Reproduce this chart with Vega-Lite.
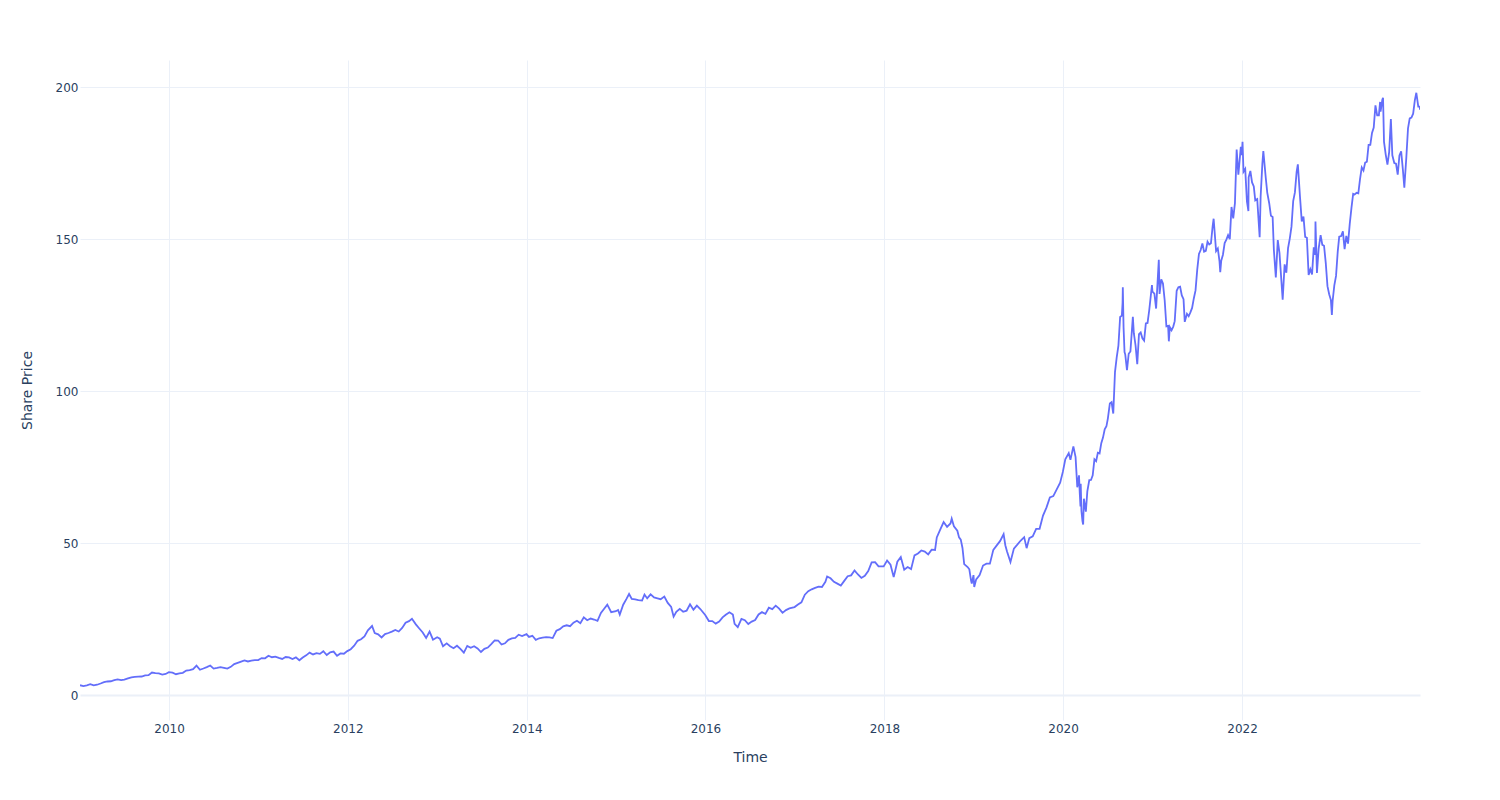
{
  "$schema": "https://vega.github.io/schema/vega-lite/v6.json",
  "autosize": {"type": "none"},
  "width": 1340,
  "height": 660,
  "padding": {"left": 80, "top": 60, "right": 80, "bottom": 80},
  "background": "white",
  "config": {
    "view": {"stroke": null},
    "font": "DejaVu Sans",
    "axis": {
      "labelFont": "DejaVu Sans", "labelFontSize": 12, "labelColor": "#2a3f5f",
      "titleFont": "DejaVu Sans", "titleFontSize": 14, "titleFontWeight": "normal", "titleColor": "#2a3f5f",
      "domain": false, "ticks": false, "gridColor": "#EBF0F8", "gridOpacity": 1
    }
  },
  "data": {"values": [
    {"t":"2009-01-02","p":3.24},{"t":"2009-01-16","p":2.94},{"t":"2009-01-30","p":3.21},{"t":"2009-02-13","p":3.56},{"t":"2009-02-27","p":3.19},{"t":"2009-03-13","p":3.40},{"t":"2009-03-27","p":3.80},{"t":"2009-04-10","p":4.23},{"t":"2009-04-24","p":4.47},{"t":"2009-05-08","p":4.55},{"t":"2009-05-22","p":4.90},{"t":"2009-06-05","p":5.18},{"t":"2009-06-19","p":4.93},{"t":"2009-07-02","p":5.08},{"t":"2009-07-17","p":5.46},{"t":"2009-07-31","p":5.84},{"t":"2009-08-14","p":5.97},{"t":"2009-08-28","p":6.07},{"t":"2009-09-11","p":6.11},{"t":"2009-09-25","p":6.49},{"t":"2009-10-09","p":6.54},{"t":"2009-10-23","p":7.41},{"t":"2009-11-06","p":7.25},{"t":"2009-11-20","p":7.13},{"t":"2009-12-04","p":6.75},{"t":"2009-12-18","p":6.94},{"t":"2009-12-31","p":7.53},
    {"t":"2010-01-15","p":7.35},{"t":"2010-01-29","p":6.86},{"t":"2010-02-12","p":7.16},{"t":"2010-02-26","p":7.31},{"t":"2010-03-12","p":8.06},{"t":"2010-03-26","p":8.22},{"t":"2010-04-09","p":8.50},{"t":"2010-04-23","p":9.69},{"t":"2010-05-07","p":8.33},{"t":"2010-05-21","p":8.74},{"t":"2010-06-04","p":9.18},{"t":"2010-06-18","p":9.71},{"t":"2010-07-02","p":8.72},{"t":"2010-07-16","p":8.93},{"t":"2010-07-30","p":9.19},{"t":"2010-08-13","p":8.96},{"t":"2010-08-27","p":8.70},{"t":"2010-09-10","p":9.28},{"t":"2010-09-24","p":10.17},{"t":"2010-10-08","p":10.58},{"t":"2010-10-22","p":10.99},{"t":"2010-11-05","p":11.37},{"t":"2010-11-19","p":11.05},{"t":"2010-12-03","p":11.36},{"t":"2010-12-17","p":11.51},{"t":"2010-12-31","p":11.52},
    {"t":"2011-01-14","p":12.18},{"t":"2011-01-28","p":12.10},{"t":"2011-02-11","p":12.96},{"t":"2011-02-25","p":12.45},{"t":"2011-03-11","p":12.62},{"t":"2011-03-25","p":12.23},{"t":"2011-04-08","p":11.89},{"t":"2011-04-22","p":12.52},{"t":"2011-05-06","p":12.39},{"t":"2011-05-20","p":11.84},{"t":"2011-06-03","p":12.39},{"t":"2011-06-17","p":11.46},{"t":"2011-07-01","p":12.34},{"t":"2011-07-15","p":13.07},{"t":"2011-07-29","p":13.95},{"t":"2011-08-12","p":13.36},{"t":"2011-08-26","p":13.76},{"t":"2011-09-09","p":13.55},{"t":"2011-09-23","p":14.41},{"t":"2011-10-07","p":13.16},{"t":"2011-10-21","p":14.04},{"t":"2011-11-04","p":14.30},{"t":"2011-11-18","p":12.91},{"t":"2011-12-02","p":13.69},{"t":"2011-12-16","p":13.60},{"t":"2011-12-30","p":14.46},
    {"t":"2012-01-13","p":15.10},{"t":"2012-01-27","p":16.23},{"t":"2012-02-10","p":17.85},{"t":"2012-02-24","p":18.35},{"t":"2012-03-09","p":19.31},{"t":"2012-03-23","p":21.32},{"t":"2012-04-09","p":22.72},{"t":"2012-04-20","p":20.38},{"t":"2012-05-04","p":19.97},{"t":"2012-05-18","p":18.94},{"t":"2012-06-01","p":20.04},{"t":"2012-06-15","p":20.42},{"t":"2012-06-29","p":20.86},{"t":"2012-07-13","p":21.39},{"t":"2012-07-27","p":20.90},{"t":"2012-08-10","p":22.07},{"t":"2012-08-24","p":23.80},{"t":"2012-09-07","p":24.33},{"t":"2012-09-19","p":25.09},{"t":"2012-10-05","p":23.27},{"t":"2012-10-19","p":21.91},{"t":"2012-11-02","p":20.60},{"t":"2012-11-16","p":18.80},{"t":"2012-11-30","p":20.90},{"t":"2012-12-14","p":18.21},{"t":"2012-12-31","p":19.01},
    {"t":"2013-01-11","p":18.55},{"t":"2013-01-24","p":16.06},{"t":"2013-02-08","p":17.00},{"t":"2013-02-22","p":16.09},{"t":"2013-03-08","p":15.40},{"t":"2013-03-22","p":16.23},{"t":"2013-04-05","p":15.22},{"t":"2013-04-19","p":13.95},{"t":"2013-05-03","p":16.16},{"t":"2013-05-17","p":15.56},{"t":"2013-05-31","p":16.06},{"t":"2013-06-14","p":15.35},{"t":"2013-06-28","p":14.16},{"t":"2013-07-12","p":15.21},{"t":"2013-07-26","p":15.64},{"t":"2013-08-09","p":16.76},{"t":"2013-08-23","p":17.99},{"t":"2013-09-06","p":17.94},{"t":"2013-09-20","p":16.62},{"t":"2013-10-04","p":17.03},{"t":"2013-10-18","p":18.17},{"t":"2013-11-01","p":18.64},{"t":"2013-11-15","p":18.78},{"t":"2013-11-29","p":19.86},{"t":"2013-12-13","p":19.40},{"t":"2013-12-31","p":20.04},
    {"t":"2014-01-10","p":19.13},{"t":"2014-01-24","p":19.50},{"t":"2014-02-07","p":18.17},{"t":"2014-02-21","p":18.69},{"t":"2014-03-07","p":18.91},{"t":"2014-03-21","p":19.06},{"t":"2014-04-04","p":18.98},{"t":"2014-04-17","p":18.75},{"t":"2014-05-02","p":21.15},{"t":"2014-05-16","p":21.68},{"t":"2014-05-30","p":22.61},{"t":"2014-06-13","p":22.95},{"t":"2014-06-27","p":22.67},{"t":"2014-07-11","p":23.80},{"t":"2014-07-25","p":24.42},{"t":"2014-08-08","p":23.62},{"t":"2014-08-22","p":25.56},{"t":"2014-09-05","p":24.61},{"t":"2014-09-19","p":25.18},{"t":"2014-10-03","p":24.85},{"t":"2014-10-17","p":24.42},{"t":"2014-10-31","p":27.00},{"t":"2014-11-14","p":28.48},{"t":"2014-11-26","p":29.73},{"t":"2014-12-12","p":27.27},{"t":"2014-12-31","p":27.59},
    {"t":"2015-01-09","p":28.00},{"t":"2015-01-16","p":26.50},{"t":"2015-01-30","p":29.73},{"t":"2015-02-13","p":31.72},{"t":"2015-02-23","p":33.25},{"t":"2015-03-06","p":31.64},{"t":"2015-03-20","p":31.48},{"t":"2015-04-02","p":31.23},{"t":"2015-04-17","p":31.09},{"t":"2015-04-27","p":33.06},{"t":"2015-05-08","p":31.80},{"t":"2015-05-22","p":33.13},{"t":"2015-06-05","p":32.13},{"t":"2015-06-19","p":31.84},{"t":"2015-07-02","p":31.55},{"t":"2015-07-17","p":32.39},{"t":"2015-07-31","p":30.33},{"t":"2015-08-14","p":28.99},{"t":"2015-08-24","p":25.78},{"t":"2015-09-04","p":27.35},{"t":"2015-09-18","p":28.35},{"t":"2015-10-02","p":27.40},{"t":"2015-10-16","p":27.75},{"t":"2015-10-30","p":29.88},{"t":"2015-11-13","p":28.09},{"t":"2015-11-27","p":29.44},{"t":"2015-12-11","p":28.30},{"t":"2015-12-31","p":26.32},
    {"t":"2016-01-15","p":24.35},{"t":"2016-01-29","p":24.33},{"t":"2016-02-12","p":23.50},{"t":"2016-02-26","p":24.18},{"t":"2016-03-11","p":25.57},{"t":"2016-03-24","p":26.42},{"t":"2016-04-08","p":27.25},{"t":"2016-04-22","p":26.48},{"t":"2016-04-29","p":23.43},{"t":"2016-05-12","p":22.37},{"t":"2016-05-27","p":25.09},{"t":"2016-06-10","p":24.63},{"t":"2016-06-24","p":23.35},{"t":"2016-07-08","p":24.17},{"t":"2016-07-22","p":24.67},{"t":"2016-08-05","p":26.51},{"t":"2016-08-19","p":27.28},{"t":"2016-09-02","p":26.72},{"t":"2016-09-16","p":28.73},{"t":"2016-09-30","p":28.26},{"t":"2016-10-14","p":29.41},{"t":"2016-10-28","p":28.43},{"t":"2016-11-11","p":27.05},{"t":"2016-11-25","p":27.95},{"t":"2016-12-09","p":28.49},{"t":"2016-12-30","p":28.95},
    {"t":"2017-01-13","p":29.76},{"t":"2017-01-27","p":30.49},{"t":"2017-02-10","p":33.03},{"t":"2017-02-24","p":34.17},{"t":"2017-03-10","p":34.79},{"t":"2017-03-24","p":35.26},{"t":"2017-04-07","p":35.69},{"t":"2017-04-21","p":35.57},{"t":"2017-05-05","p":37.24},{"t":"2017-05-12","p":39.02},{"t":"2017-05-26","p":38.40},{"t":"2017-06-09","p":37.24},{"t":"2017-06-23","p":36.65},{"t":"2017-07-07","p":36.00},{"t":"2017-07-21","p":37.56},{"t":"2017-08-04","p":39.10},{"t":"2017-08-18","p":39.38},{"t":"2017-09-01","p":41.01},{"t":"2017-09-15","p":39.66},{"t":"2017-09-29","p":38.53},{"t":"2017-10-13","p":39.24},{"t":"2017-10-27","p":40.76},{"t":"2017-11-10","p":43.67},{"t":"2017-11-24","p":43.74},{"t":"2017-12-08","p":42.34},{"t":"2017-12-29","p":42.31},
    {"t":"2018-01-12","p":44.27},{"t":"2018-01-26","p":42.88},{"t":"2018-02-08","p":38.79},{"t":"2018-02-23","p":43.88},{"t":"2018-03-09","p":45.43},{"t":"2018-03-23","p":41.24},{"t":"2018-04-06","p":42.10},{"t":"2018-04-20","p":41.43},{"t":"2018-05-04","p":45.96},{"t":"2018-05-18","p":46.58},{"t":"2018-06-01","p":47.56},{"t":"2018-06-15","p":47.21},{"t":"2018-06-29","p":46.28},{"t":"2018-07-13","p":47.84},{"t":"2018-07-27","p":47.74},{"t":"2018-08-03","p":51.85},{"t":"2018-08-17","p":54.40},{"t":"2018-08-31","p":56.91},{"t":"2018-09-14","p":55.33},{"t":"2018-09-28","p":56.44},{"t":"2018-10-03","p":58.02},{"t":"2018-10-12","p":55.53},{"t":"2018-10-26","p":54.08},{"t":"2018-11-02","p":51.87},{"t":"2018-11-09","p":51.12},{"t":"2018-11-16","p":48.38},{"t":"2018-11-23","p":43.07},{"t":"2018-12-07","p":42.12},{"t":"2018-12-14","p":41.37},{"t":"2018-12-21","p":37.68},{"t":"2018-12-24","p":36.71},{"t":"2018-12-31","p":39.44},
    {"t":"2019-01-03","p":35.55},{"t":"2019-01-11","p":38.07},{"t":"2019-01-25","p":39.44},{"t":"2019-02-08","p":42.60},{"t":"2019-02-22","p":43.24},{"t":"2019-03-08","p":43.23},{"t":"2019-03-22","p":47.76},{"t":"2019-04-05","p":49.25},{"t":"2019-04-19","p":50.71},{"t":"2019-05-03","p":52.94},{"t":"2019-05-10","p":49.30},{"t":"2019-05-17","p":47.25},{"t":"2019-05-31","p":43.77},{"t":"2019-06-14","p":48.19},{"t":"2019-06-28","p":49.48},{"t":"2019-07-12","p":50.83},{"t":"2019-07-26","p":51.94},{"t":"2019-08-05","p":48.33},{"t":"2019-08-16","p":51.63},{"t":"2019-08-30","p":52.19},{"t":"2019-09-13","p":54.69},{"t":"2019-09-27","p":54.71},{"t":"2019-10-11","p":59.05},{"t":"2019-10-25","p":61.65},{"t":"2019-11-08","p":65.04},{"t":"2019-11-22","p":65.45},{"t":"2019-12-06","p":67.68},{"t":"2019-12-20","p":69.86},{"t":"2019-12-31","p":73.41},
    {"t":"2020-01-10","p":77.58},{"t":"2020-01-24","p":79.58},{"t":"2020-01-31","p":77.38},{"t":"2020-02-12","p":81.80},{"t":"2020-02-21","p":78.26},{"t":"2020-02-28","p":68.34},{"t":"2020-03-06","p":72.26},{"t":"2020-03-09","p":66.54},{"t":"2020-03-12","p":62.06},{"t":"2020-03-13","p":69.49},{"t":"2020-03-16","p":60.55},{"t":"2020-03-20","p":57.31},{"t":"2020-03-23","p":56.09},{"t":"2020-03-26","p":64.61},{"t":"2020-04-03","p":60.35},{"t":"2020-04-09","p":66.99},{"t":"2020-04-17","p":70.70},{"t":"2020-04-24","p":70.74},{"t":"2020-05-01","p":72.27},{"t":"2020-05-08","p":77.53},{"t":"2020-05-15","p":76.93},{"t":"2020-05-22","p":79.72},{"t":"2020-05-29","p":79.49},{"t":"2020-06-05","p":82.88},{"t":"2020-06-12","p":84.70},{"t":"2020-06-19","p":87.43},{"t":"2020-06-26","p":88.41},{"t":"2020-07-02","p":91.03},{"t":"2020-07-10","p":95.92},{"t":"2020-07-17","p":96.33},{"t":"2020-07-24","p":92.62},{"t":"2020-07-31","p":106.26},{"t":"2020-08-07","p":111.11},{"t":"2020-08-14","p":114.91},{"t":"2020-08-21","p":124.37},{"t":"2020-08-28","p":124.81},{"t":"2020-08-31","p":129.04},{"t":"2020-09-01","p":134.18},{"t":"2020-09-04","p":120.96},{"t":"2020-09-08","p":112.82},{"t":"2020-09-11","p":112.00},{"t":"2020-09-18","p":106.84},{"t":"2020-09-25","p":112.28},{"t":"2020-10-02","p":113.02},{"t":"2020-10-12","p":124.40},{"t":"2020-10-16","p":119.02},{"t":"2020-10-23","p":115.04},{"t":"2020-10-30","p":108.86},{"t":"2020-11-06","p":118.69},{"t":"2020-11-13","p":119.26},{"t":"2020-11-20","p":117.34},{"t":"2020-11-27","p":116.59},{"t":"2020-12-04","p":122.25},{"t":"2020-12-11","p":122.41},{"t":"2020-12-18","p":126.66},{"t":"2020-12-29","p":134.87},{"t":"2020-12-31","p":132.69},
    {"t":"2021-01-08","p":132.05},{"t":"2021-01-15","p":127.14},{"t":"2021-01-26","p":143.16},{"t":"2021-01-29","p":131.96},{"t":"2021-02-05","p":136.76},{"t":"2021-02-12","p":135.37},{"t":"2021-02-19","p":129.87},{"t":"2021-02-26","p":121.26},{"t":"2021-03-05","p":121.42},{"t":"2021-03-08","p":116.36},{"t":"2021-03-12","p":121.03},{"t":"2021-03-19","p":119.99},{"t":"2021-03-26","p":121.21},{"t":"2021-04-01","p":123.00},{"t":"2021-04-09","p":133.00},{"t":"2021-04-16","p":134.16},{"t":"2021-04-23","p":134.32},{"t":"2021-04-30","p":131.46},{"t":"2021-05-07","p":130.21},{"t":"2021-05-12","p":122.77},{"t":"2021-05-21","p":125.43},{"t":"2021-05-28","p":124.61},{"t":"2021-06-04","p":125.89},{"t":"2021-06-11","p":127.35},{"t":"2021-06-18","p":130.46},{"t":"2021-06-25","p":133.11},{"t":"2021-07-02","p":139.96},{"t":"2021-07-09","p":145.11},{"t":"2021-07-16","p":146.39},{"t":"2021-07-23","p":148.56},{"t":"2021-07-30","p":145.86},{"t":"2021-08-06","p":146.14},{"t":"2021-08-13","p":149.10},{"t":"2021-08-20","p":148.19},{"t":"2021-08-27","p":148.60},{"t":"2021-09-03","p":154.30},{"t":"2021-09-07","p":156.69},{"t":"2021-09-17","p":146.06},{"t":"2021-09-24","p":146.92},{"t":"2021-10-01","p":142.65},{"t":"2021-10-04","p":139.14},{"t":"2021-10-08","p":142.90},{"t":"2021-10-15","p":144.84},{"t":"2021-10-22","p":148.69},{"t":"2021-10-29","p":149.80},{"t":"2021-11-05","p":151.28},{"t":"2021-11-12","p":149.99},{"t":"2021-11-19","p":160.55},{"t":"2021-11-26","p":156.81},{"t":"2021-12-03","p":161.84},{"t":"2021-12-10","p":179.45},{"t":"2021-12-17","p":171.14},{"t":"2021-12-27","p":180.33},{"t":"2021-12-31","p":177.57},
    {"t":"2022-01-03","p":182.01},{"t":"2022-01-07","p":172.17},{"t":"2022-01-14","p":173.07},{"t":"2022-01-21","p":162.41},{"t":"2022-01-27","p":159.22},{"t":"2022-01-28","p":170.33},{"t":"2022-02-04","p":172.39},{"t":"2022-02-11","p":168.64},{"t":"2022-02-18","p":167.30},{"t":"2022-02-24","p":162.74},{"t":"2022-03-04","p":163.17},{"t":"2022-03-14","p":150.62},{"t":"2022-03-18","p":163.98},{"t":"2022-03-25","p":174.72},{"t":"2022-03-29","p":178.96},{"t":"2022-04-08","p":170.09},{"t":"2022-04-14","p":165.29},{"t":"2022-04-22","p":161.79},{"t":"2022-04-29","p":157.65},{"t":"2022-05-06","p":157.28},{"t":"2022-05-11","p":146.50},{"t":"2022-05-19","p":137.35},{"t":"2022-05-27","p":149.64},{"t":"2022-06-03","p":145.38},{"t":"2022-06-10","p":137.13},{"t":"2022-06-16","p":130.06},{"t":"2022-06-24","p":141.66},{"t":"2022-07-01","p":138.93},{"t":"2022-07-08","p":147.04},{"t":"2022-07-15","p":150.17},{"t":"2022-07-22","p":154.09},{"t":"2022-07-29","p":162.51},{"t":"2022-08-05","p":165.35},{"t":"2022-08-12","p":172.10},{"t":"2022-08-17","p":174.55},{"t":"2022-08-26","p":163.62},{"t":"2022-09-02","p":155.81},{"t":"2022-09-09","p":157.37},{"t":"2022-09-16","p":150.70},{"t":"2022-09-23","p":150.43},{"t":"2022-09-30","p":138.20},{"t":"2022-10-07","p":140.09},{"t":"2022-10-14","p":138.38},{"t":"2022-10-21","p":147.27},{"t":"2022-10-27","p":144.80},{"t":"2022-10-28","p":155.74},{"t":"2022-11-03","p":138.88},{"t":"2022-11-10","p":146.87},{"t":"2022-11-18","p":151.29},{"t":"2022-11-25","p":148.11},{"t":"2022-12-02","p":147.81},{"t":"2022-12-09","p":142.16},{"t":"2022-12-16","p":134.51},{"t":"2022-12-23","p":131.86},{"t":"2022-12-30","p":129.93},
    {"t":"2023-01-03","p":125.07},{"t":"2023-01-06","p":129.62},{"t":"2023-01-13","p":134.76},{"t":"2023-01-20","p":137.87},{"t":"2023-01-27","p":145.93},{"t":"2023-02-02","p":150.82},{"t":"2023-02-10","p":151.01},{"t":"2023-02-17","p":152.55},{"t":"2023-02-24","p":146.71},{"t":"2023-03-03","p":151.03},{"t":"2023-03-10","p":148.50},{"t":"2023-03-17","p":155.00},{"t":"2023-03-24","p":160.25},{"t":"2023-03-31","p":164.90},{"t":"2023-04-06","p":164.66},{"t":"2023-04-14","p":165.21},{"t":"2023-04-21","p":165.02},{"t":"2023-04-28","p":169.68},{"t":"2023-05-05","p":173.57},{"t":"2023-05-12","p":172.57},{"t":"2023-05-19","p":175.16},{"t":"2023-05-26","p":175.43},{"t":"2023-06-02","p":180.95},{"t":"2023-06-09","p":180.96},{"t":"2023-06-16","p":184.92},{"t":"2023-06-23","p":186.68},{"t":"2023-06-30","p":193.97},{"t":"2023-07-07","p":190.68},{"t":"2023-07-14","p":190.69},{"t":"2023-07-19","p":195.10},{"t":"2023-07-21","p":191.94},{"t":"2023-07-28","p":195.83},{"t":"2023-07-31","p":196.45},{"t":"2023-08-04","p":181.99},{"t":"2023-08-11","p":177.79},{"t":"2023-08-18","p":174.49},{"t":"2023-08-25","p":178.61},{"t":"2023-09-01","p":189.46},{"t":"2023-09-07","p":177.56},{"t":"2023-09-15","p":175.01},{"t":"2023-09-22","p":174.79},{"t":"2023-09-29","p":171.21},{"t":"2023-10-06","p":177.49},{"t":"2023-10-13","p":178.85},{"t":"2023-10-20","p":172.88},{"t":"2023-10-26","p":166.89},{"t":"2023-10-27","p":168.22},{"t":"2023-11-03","p":176.65},{"t":"2023-11-10","p":186.40},{"t":"2023-11-17","p":189.69},{"t":"2023-11-24","p":189.97},{"t":"2023-12-01","p":191.24},{"t":"2023-12-08","p":195.71},{"t":"2023-12-14","p":198.11},{"t":"2023-12-22","p":193.60},{"t":"2023-12-28","p":193.58},{"t":"2023-12-29","p":192.53}
  ]},
  "mark": {"type": "line", "color": "#636efa", "strokeWidth": 1.8, "clip": true},
  "encoding": {
    "x": {
      "field": "t", "type": "temporal", "title": "Time",
      "scale": {"type": "utc", "domain": [{"year": 2009, "month": 1, "date": 2, "utc": true}, {"year": 2023, "month": 12, "date": 29, "utc": true}], "nice": false},
      "axis": {"format": "%Y", "tickCount": {"interval": "year", "step": 2}, "labelPadding": 3, "titlePadding": 16, "labelFlush": false, "labelOverlap": false}
    },
    "y": {
      "field": "p", "type": "quantitative", "title": "Share Price",
      "scale": {"domain": [-8.2, 208.9], "nice": false, "zero": false},
      "axis": {"values": [0, 50, 100, 150, 200], "labelPadding": 2, "titlePadding": 21,
        "gridWidth": {"condition": {"test": "datum.value === 0", "value": 2}, "value": 1}}
    }
  }
}
